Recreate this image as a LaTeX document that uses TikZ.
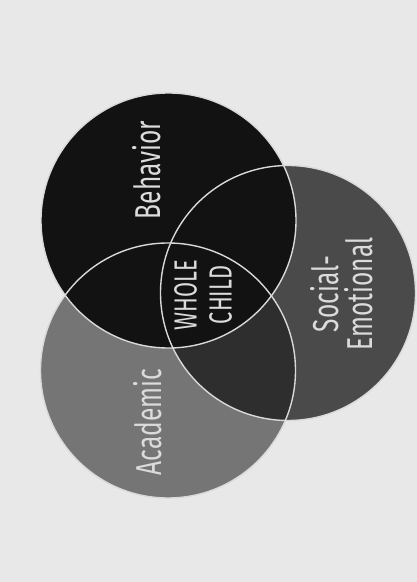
\documentclass[tikz,border=0pt]{standalone}
\usepackage{fontspec}
\newfontfamily\venncond[FakeStretch=0.68]{Fira Sans}
\definecolor{paper}{gray}{0.91}
\definecolor{behblack}{gray}{0.07}
\definecolor{acagray}{gray}{0.46}
\definecolor{socgray}{gray}{0.29}
\definecolor{bothgray}{gray}{0.18}
\definecolor{ringline}{gray}{0.85}
\definecolor{labelgray}{gray}{0.86}
\begin{document}
\begin{tikzpicture}[x=1pt, y=1pt, every node/.style={text=labelgray, rotate=90, align=center, font=\venncond\fontsize{36}{34}\selectfont}, ring/.style={draw=ringline, line width=1.4pt}, core/.style={font=\venncond\fontsize{32}{35}\selectfont}]
        \useasboundingbox (0, 0) rectangle (417, 582);
        \fill[paper] (0, 0) rectangle (417, 582);
        \coordinate (beh) at (168.5, 361.5);
        \coordinate (aca) at (168, 211.5);
        \coordinate (soc) at (288, 289);
        \fill[acagray] (aca) circle (127.5);
        \fill[socgray] (soc) circle (127.5);
        \begin{scope}
            \clip (aca) circle (127.5);
            \fill[bothgray] (soc) circle (127.5);
        \end{scope}
        \fill[behblack] (beh) circle (127.5);
        \draw[ring] (beh) circle (127.5);
        \draw[ring] (aca) circle (127.5);
        \draw[ring] (soc) circle (127.5);
        \node (behavior) at (147, 412) {Behavior};
        \node (academic) at (148, 160) {Academic};
        \node (social) at (342, 288) {Social-\\Emotional};
        \node[core] (whole) at (203, 287) {WHOLE\\CHILD};
    \end{tikzpicture}
\end{document}
